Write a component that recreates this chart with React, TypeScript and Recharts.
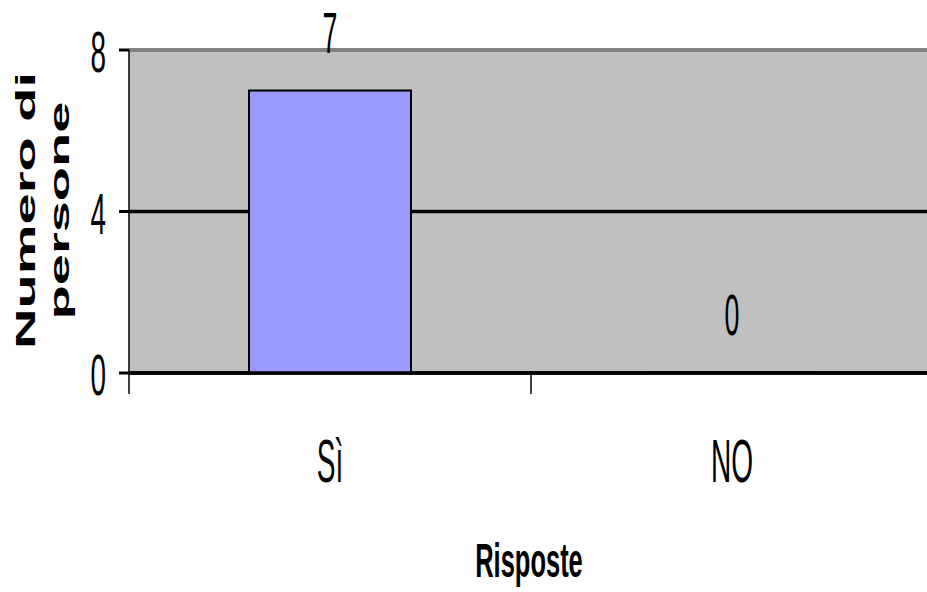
import React from 'react';
import { BarChart, Bar, XAxis, YAxis, CartesianGrid, LabelList, ReferenceLine } from 'recharts';

const categories = ['Sì', 'NO'];
const values = [7, 0];
const yTicks = [0, 4, 8];
const yTitleLines = ['Numero di', 'persone'];
const xTitle = 'Risposte';

const data = categories.map((c, i) => ({ name: c, value: values[i] }));

const FONT = '"Liberation Sans", Arial, sans-serif';

const YTick = (props: any) => {
  const { x, y, payload } = props;
  return (
    <text
      transform={`translate(${x},${y + 22}) scale(0.48,1)`}
      textAnchor="end"
      fontSize={58}
      fontFamily={FONT}
      fill="#000"
    >
      {payload.value}
    </text>
  );
};

const XTick = (props: any) => {
  const { x, y, payload, index, visibleTicksCount } = props;
  const half = payload && typeof payload.offset === 'number' ? payload.offset : 0;
  const isLast = index === visibleTicksCount - 1;
  return (
    <g>
      <line x1={x - half} x2={x - half} y1={y} y2={y + 21} stroke="#000" strokeWidth={1.5} />
      {isLast && (
        <line x1={x + half} x2={x + half} y1={y} y2={y + 21} stroke="#000" strokeWidth={1.5} />
      )}
      <text
        transform={`translate(${x},${y + 109}) scale(0.46,1)`}
        textAnchor="middle"
        fontSize={61}
        fontFamily={FONT}
        fill="#000"
      >
        {payload.value}
      </text>
    </g>
  );
};

const BarLabel = (props: any) => {
  const { x, y, width, height, value } = props;
  const top = Math.min(y, y + height);
  return (
    <text
      transform={`translate(${x + width / 2},${top - 37}) scale(0.47,1)`}
      textAnchor="middle"
      fontSize={57}
      fontFamily={FONT}
      fill="#000"
    >
      {value}
    </text>
  );
};

const YTitle = (props: any) => {
  const { viewBox } = props;
  const cy = viewBox.y + viewBox.height / 2 - 1;
  return (
    <g>
      <text
        transform={`translate(35,${cy}) rotate(-90) scale(2,1)`}
        textAnchor="middle"
        fontSize={28}
        fontWeight="bold"
        fontFamily={FONT}
        fill="#000"
      >
        {yTitleLines[0]}
      </text>
      <text
        transform={`translate(69,${cy}) rotate(-90) scale(2,1)`}
        textAnchor="middle"
        fontSize={28}
        fontWeight="bold"
        fontFamily={FONT}
        fill="#000"
      >
        {yTitleLines[1]}
      </text>
    </g>
  );
};

const XTitle = (props: any) => {
  const { viewBox } = props;
  const cx = viewBox.x + viewBox.width / 2 - 2;
  return (
    <text
      transform={`translate(${cx},577) scale(0.52,1)`}
      textAnchor="middle"
      fontSize={49}
      fontWeight="bold"
      fontFamily={FONT}
      fill="#000"
    >
      {xTitle}
    </text>
  );
};

export default function App() {
  return (
    <div style={{ position: 'absolute', left: 0, top: 0, width: 927, height: 592, overflow: 'hidden', background: '#fff' }}>
      <BarChart
        width={940}
        height={592}
        data={data}
        margin={{ top: 50, right: 7, left: 0, bottom: 0 }}
      >
        <CartesianGrid
          vertical={false}
          fill="#C0C0C0"
          fillOpacity={1}
          stroke="#000"
          strokeWidth={3.5}
        />
        <XAxis
          dataKey="name"
          type="category"
          height={219}
          tickLine={false}
          tickSize={0}
          tickMargin={0}
          axisLine={{ stroke: '#000', strokeWidth: 3.5 }}
          tick={<XTick />}
          interval={0}
          label={{ content: <XTitle /> }}
        />
        <YAxis
          type="number"
          domain={[0, 8]}
          ticks={yTicks}
          width={129}
          axisLine={{ stroke: '#000', strokeWidth: 1.5 }}
          tickLine={{ stroke: '#000', strokeWidth: 3 }}
          tickSize={10}
          tickMargin={13}
          tick={<YTick />}
          interval={0}
          label={{ content: <YTitle /> }}
        />
        <ReferenceLine y={8} stroke="#808080" strokeWidth={4} />
        <Bar
          dataKey="value"
          barSize={162}
          minPointSize={1}
          fill="#9999FF"
          stroke="#000"
          strokeWidth={2}
          isAnimationActive={false}
        >
          <LabelList dataKey="value" content={<BarLabel />} />
        </Bar>
      </BarChart>
    </div>
  );
}
